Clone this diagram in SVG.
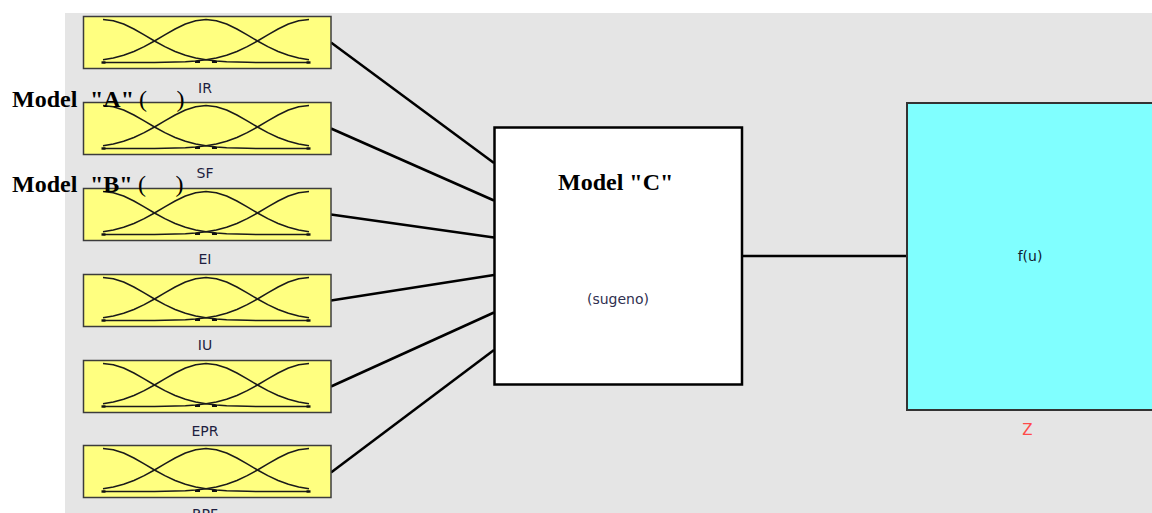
<svg xmlns="http://www.w3.org/2000/svg" xmlns:xlink="http://www.w3.org/1999/xlink" width="1152" height="513" viewBox="0 0 1152 513">
<style>
.bg{fill:#e5e5e5}
.inbox{fill:#ffff80;stroke:#3c3c3c;stroke-width:1.5}
.mf{fill:none;stroke:#1a1a1a;stroke-width:1.5;stroke-linejoin:round}
.lbl{font-family:"DejaVu Sans",Verdana,sans-serif;font-size:14px;fill:#1e1e40;text-anchor:middle}
.conn{stroke:#000;stroke-width:2.5;fill:none}
.fis{fill:#fff;stroke:#000;stroke-width:2.5}
.out{fill:#80ffff;stroke:#333;stroke-width:2}
.model{font-family:"Liberation Serif","Times New Roman",serif;font-size:24px;font-weight:bold;fill:#000}
.paren{font-weight:normal}
</style>
<defs>
<g id="mfs">
<polyline class="mf" points="103,3.5 113.3,4.67 123.6,8.01 133.9,13 144.2,18.91 154.5,25 164.8,30.65 175.1,35.45 185.4,39.21 195.7,41.95 206,43.82 216.3,45 226.6,45.71 236.9,46.1 247.2,46.31 257.5,46.42 267.8,46.5 309,46.5"/>
<polyline class="mf" points="103,43.82 113.3,41.95 123.6,39.21 133.9,35.45 144.2,30.65 154.5,25 164.8,18.91 175.1,13 185.4,8.01 195.7,4.67 206,3.5 216.3,4.67 226.6,8.01 236.9,13 247.2,18.91 257.5,25 267.8,30.65 278.1,35.45 288.4,39.21 298.7,41.95 309,43.82"/>
<polyline class="mf" points="103,46.5 144.2,46.5 154.5,46.42 164.8,46.31 175.1,46.1 185.4,45.71 195.7,45 206,43.82 216.3,41.95 226.6,39.21 236.9,35.45 247.2,30.65 257.5,25 267.8,18.91 278.1,13 288.4,8.01 298.7,4.67 309,3.5"/>
<rect x="101.5" y="45.3" width="4" height="2.4" fill="#111"/>
<rect x="306.5" y="45.3" width="4" height="2.4" fill="#111"/>
<rect x="195" y="44.8" width="5" height="2.2" fill="#111"/>
<rect x="212" y="44.8" width="5" height="2.2" fill="#111"/>
</g>
</defs>
<rect class="bg" x="65" y="13" width="1087" height="500"/>
<g id="connectors">
<line class="conn" x1="331" y1="42.5" x2="494" y2="163"/>
<line class="conn" x1="331" y1="128.5" x2="494" y2="200.5"/>
<line class="conn" x1="331" y1="214.5" x2="494" y2="237.5"/>
<line class="conn" x1="331" y1="300.5" x2="494" y2="275"/>
<line class="conn" x1="331" y1="386.5" x2="494" y2="312.5"/>
<line class="conn" x1="331" y1="472.5" x2="494" y2="350"/>
<line class="conn" x1="742" y1="256" x2="907" y2="256"/>
</g>
<g id="IR">
<rect class="inbox" x="83.5" y="16.5" width="247.5" height="52"/>
<use xlink:href="#mfs" href="#mfs" transform="translate(0,16)"/>
<text class="lbl" x="205" y="93">IR</text>
</g>
<g id="SF">
<rect class="inbox" x="83.5" y="102.5" width="247.5" height="52"/>
<use xlink:href="#mfs" href="#mfs" transform="translate(0,102)"/>
<text class="lbl" x="205" y="178">SF</text>
</g>
<g id="EI">
<rect class="inbox" x="83.5" y="188.5" width="247.5" height="52"/>
<use xlink:href="#mfs" href="#mfs" transform="translate(0,188)"/>
<text class="lbl" x="205" y="264">EI</text>
</g>
<g id="IU">
<rect class="inbox" x="83.5" y="274.5" width="247.5" height="52"/>
<use xlink:href="#mfs" href="#mfs" transform="translate(0,274)"/>
<text class="lbl" x="205" y="350">IU</text>
</g>
<g id="EPR">
<rect class="inbox" x="83.5" y="360.5" width="247.5" height="52"/>
<use xlink:href="#mfs" href="#mfs" transform="translate(0,360)"/>
<text class="lbl" x="205" y="436">EPR</text>
</g>
<g id="RPF">
<rect class="inbox" x="83.5" y="445.5" width="247.5" height="52"/>
<use xlink:href="#mfs" href="#mfs" transform="translate(0,445)"/>
<text class="lbl" x="205" y="519">RPF</text>
</g>
<g id="fis">
<rect class="fis" x="494.5" y="127.5" width="247.5" height="257"/>
<text class="model" x="558" y="190">Model "C"</text>
<text class="lbl" x="618" y="304" style="fill:#303050">(sugeno)</text>
</g>
<g id="Z">
<rect class="out" x="907" y="103" width="300" height="307"/>
<text class="lbl" x="1030" y="261" style="fill:#102030">f(u)</text>
<text class="lbl" x="1027.5" y="435" style="fill:#ff4a4a;font-size:15px">Z</text>
</g>
<g id="annotations">
<text class="model" y="107"><tspan x="12">Model</tspan><tspan x="90">"A"</tspan><tspan class="paren" x="139">(</tspan><tspan class="paren" x="176.5">)</tspan></text>
<text class="model" y="192"><tspan x="12">Model</tspan><tspan x="90">"B"</tspan><tspan class="paren" x="138">(</tspan><tspan class="paren" x="175.5">)</tspan></text>
</g>
</svg>
